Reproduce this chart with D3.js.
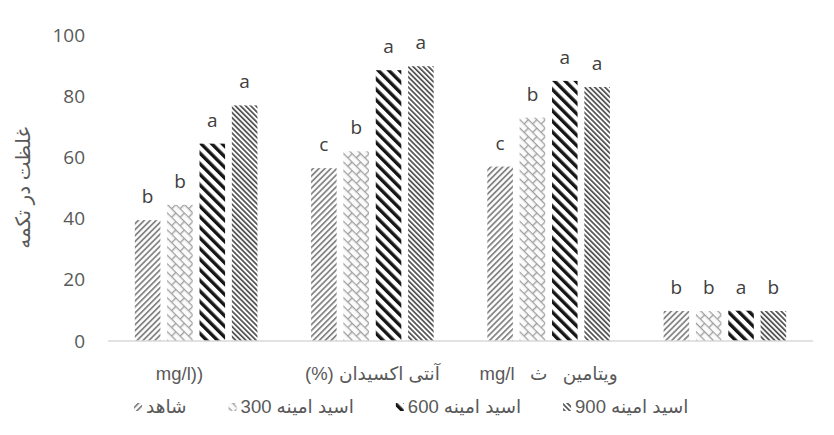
<!DOCTYPE html>
<html><head><meta charset="utf-8">
<script src="https://cdn.jsdelivr.net/npm/d3@7"></script>
<style>body{margin:0;background:#fff} svg{display:block} text.pre{white-space:pre}</style>
</head><body><svg id="c" width="834" height="435"></svg>
<script>
// ---- data ----
const categories = ["mg/l))", "آنتی اکسیدان (%)", "ویتامین   ث   mg/l", ""];
const seriesNames = ["شاهد", "اسید امینه 300", "اسید امینه 600", "اسید امینه 900"];
const control  = [39.5, 56.5, 57, 9.8];
const amino300 = [44.5, 62, 73, 9.8];
const amino600 = [64.5, 88.5, 85, 9.9];
const amino900 = [77, 89.8, 83, 9.8];
const lettersControl  = ["b", "c", "c", "b"];
const letters300 = ["b", "b", "b", "b"];
const letters600 = ["a", "a", "a", "a"];
const letters900 = ["a", "a", "a", "b"];
const yTicks = [0, 20, 40, 60, 80, 100];
const yTitle = "غلظت در تکمه";

const seriesValues = [control, amino300, amino600, amino900];
const seriesLetters = [lettersControl, letters300, letters600, letters900];

const svg = d3.select("#c");
const W = 834, H = 435;
svg.append("rect").attr("width", W).attr("height", H).attr("fill", "#fff");

// ---- patterns ----
const defs = svg.append("defs");
function stripes(id, size, stripeW, color, angle) {
  const p = defs.append("pattern").attr("id", id).attr("patternUnits", "userSpaceOnUse")
    .attr("width", size).attr("height", size).attr("patternTransform", `rotate(${angle})`);
  p.append("rect").attr("width", size).attr("height", size).attr("fill", "#fff");
  p.append("rect").attr("width", stripeW).attr("height", size).attr("fill", color);
}
stripes("p0", 4.2, 1.8, "#858585", 45);
stripes("p2", 7.5, 3.4, "#151515", -45);
stripes("p3", 3.6, 1.7, "#505050", -45);
{
  const s = 12;
  const p = defs.append("pattern").attr("id", "p1").attr("patternUnits", "userSpaceOnUse")
    .attr("width", s).attr("height", s).attr("patternTransform", "rotate(45)");
  p.append("rect").attr("width", s).attr("height", s).attr("fill", "#fbfbfb");
  p.append("path").attr("d", `M0,0.6H${s} M0,${s/2+0.6}H${s} M0.6,0V${s/2} M${s/2+0.6},${s/2}V${s}`)
    .attr("stroke", "#a0a0a0").attr("stroke-width", 1.4).attr("fill", "none");
}
const fills = ["url(#p0)", "url(#p1)", "url(#p2)", "url(#p3)"];

// ---- scales ----
const x0 = d3.scaleBand().domain(d3.range(categories.length)).range([108, 813]);
const x1 = d3.scaleBand().domain(d3.range(seriesNames.length)).range([0, x0.bandwidth()])
  .paddingInner(0.21).paddingOuter(0.83);
const y = d3.scaleLinear().domain([0, 100]).range([341, 35]);

const fontNum = "'Open Sans', 'DejaVu Sans', sans-serif";
const fontAr = "'Liberation Sans', 'DejaVu Sans', sans-serif";

// y tick labels
const yAxis = d3.axisLeft(y).tickValues(yTicks).tickSize(0).tickPadding(0);
const gy = svg.append("g").attr("transform", "translate(85,0)").call(yAxis);
gy.select(".domain").remove();
gy.selectAll("text").attr("font-family", fontNum).attr("font-size", 19).attr("fill", "#595959");

// y title
svg.append("text").attr("transform", `translate(30,188) rotate(-90)`)
  .attr("text-anchor", "middle").attr("direction", "rtl")
  .attr("font-family", fontAr).attr("font-size", 20).attr("fill", "#595959").text(yTitle);

// bars
const groups = svg.append("g").selectAll("g").data(categories).join("g")
  .attr("transform", (d, i) => `translate(${x0(i)},0)`);
groups.each(function (c, ci) {
  const g = d3.select(this);
  seriesValues.forEach((vals, si) => {
    g.append("rect").attr("x", x1(si)).attr("width", x1.bandwidth())
      .attr("y", y(vals[ci])).attr("height", y(0) - y(vals[ci]))
      .attr("fill", fills[si]);
    g.append("text").attr("x", x1(si) + x1.bandwidth() / 2).attr("y", y(vals[ci]) - 17)
      .attr("text-anchor", "middle").attr("font-family", fontNum).attr("font-size", 19)
      .attr("fill", "#404040").text(seriesLetters[si][ci]);
  });
});

// x axis line
svg.append("line").attr("x1", 108).attr("x2", 813).attr("y1", y(0)).attr("y2", y(0))
  .attr("stroke", "#d9d9d9").attr("stroke-width", 1.5);

// category labels
categories.forEach((c, i) => {
  const cx = x0(i) + x0.bandwidth() / 2;
  const t = svg.append("text").attr("class", "pre").attr("y", 380).attr("font-family", fontAr)
    .attr("font-size", 18.5).attr("fill", "#595959");
  if (i === 0) {
    t.attr("x", cx + 7).attr("text-anchor", "end").attr("direction", "ltr").text(c);
  } else {
    t.attr("x", cx).attr("text-anchor", "middle").attr("direction", "rtl").text(c);
  }
});

// legend (left to right)
const leg = svg.append("g");
let lx = 134;
seriesNames.forEach((name, i) => {
  leg.append("rect").attr("x", lx).attr("y", 403).attr("width", 8).attr("height", 8)
    .attr("fill", fills[i]);
  const t = leg.append("text").attr("x", lx + 12).attr("y", 413)
    .attr("font-family", fontAr).attr("font-size", 18.5).attr("fill", "#595959")
    .attr("direction", "rtl").attr("text-anchor", "end").text(name);
  const w = t.node().getComputedTextLength();
  t.attr("text-anchor", "start").attr("x", lx + 12 + w);
  lx += 12 + w + 42;
});
</script>
</body></html>
